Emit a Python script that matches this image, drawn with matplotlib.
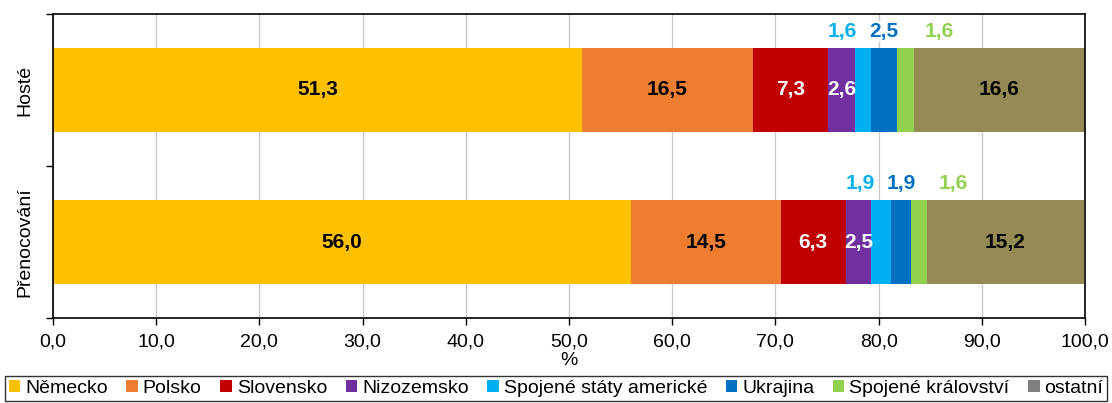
import matplotlib
matplotlib.use('Agg')
import matplotlib.pyplot as plt
from matplotlib.patches import Patch
import numpy as np

plt.rcParams['font.family'] = ['Liberation Sans', 'DejaVu Sans']

# data
categories = ['Přenocování', 'Hosté']
countries = ['Německo', 'Polsko', 'Slovensko', 'Nizozemsko',
             'Spojené státy americké', 'Ukrajina', 'Spojené království', 'ostatní']
hoste = [51.3, 16.5, 7.3, 2.6, 1.6, 2.5, 1.6, 16.6]
prenocovani = [56.0, 14.5, 6.3, 2.5, 1.9, 1.9, 1.6, 15.2]
values = [prenocovani, hoste]

bar_colors = ['#FFC000', '#ED7D31', '#C00000', '#7030A0',
              '#00B0F0', '#0070C0', '#92D050', '#948A54']
legend_colors = bar_colors[:-1] + ['#7F7F7F']
label_colors = ['black', 'black', 'white', 'white', None, None, None, 'black']
# small segments get their label above the bar, nudged sideways (in %)
above_shift = {4: -2.0, 5: 0.0, 6: 3.3}

fig = plt.figure(figsize=(11.12, 4.03), dpi=100)
ax = fig.add_axes([0.0477, 0.2109, 0.928, 0.7544])

ypos = np.arange(len(categories))
bar_h = 0.55
for row, vals in zip(ypos, values):
    left = 0.0
    for i, v in enumerate(vals):
        ax.barh(row, v, left=left, height=bar_h, color=bar_colors[i],
                edgecolor='none', zorder=2)
        center = left + v / 2
        txt = '{:.1f}'.format(v).replace('.', ',')
        if i in above_shift:
            ax.text(center + above_shift[i], row + bar_h / 2 + 0.11, txt,
                    ha='center', va='center', fontsize=15, fontweight='bold',
                    color=bar_colors[i], zorder=4,
                    bbox=dict(facecolor='white', edgecolor='none', pad=1.0))
        else:
            ax.text(center, row, txt, ha='center', va='center', fontsize=15,
                    fontweight='bold', color=label_colors[i], zorder=3)
        left += v

ax.set_xlim(0, 100)
ax.set_ylim(-0.5, 1.5)
ax.set_xticks(np.arange(0, 101, 10))
ax.set_xticklabels(['{:.1f}'.format(x).replace('.', ',') for x in np.arange(0, 101, 10)],
                   fontsize=14)
ax.set_xlabel('%', fontsize=14, labelpad=1)

ax.set_yticks([-0.5, 0.5, 1.5])
ax.set_yticklabels([])
ax.set_yticks(ypos, minor=True)
ax.set_yticklabels(categories, minor=True, rotation=90, va='center', fontsize=14)
ax.tick_params(axis='y', which='minor', length=0, pad=14)
ax.tick_params(axis='y', which='major', length=5, width=1)
ax.tick_params(axis='x', length=5, width=1, pad=6)

ax.grid(axis='x', color='#C8C8C8', linewidth=1, zorder=0)
ax.set_axisbelow(True)
for s in ax.spines.values():
    s.set_color('black')
    s.set_linewidth(1.2)
    s.set_zorder(3)

handles = [Patch(facecolor=c, edgecolor='none') for c in legend_colors]
leg = fig.legend(handles, countries, loc='lower center', bbox_to_anchor=(0.5, 0.0),
                 ncol=8, fontsize=14, frameon=True, fancybox=False,
                 handlelength=0.6, handleheight=0.6, handletextpad=0.25,
                 columnspacing=0.95, borderpad=0.2, borderaxespad=0.1)
leg.get_frame().set_edgecolor('black')
leg.get_frame().set_linewidth(1.0)

fig.savefig('out.png', dpi=100)
